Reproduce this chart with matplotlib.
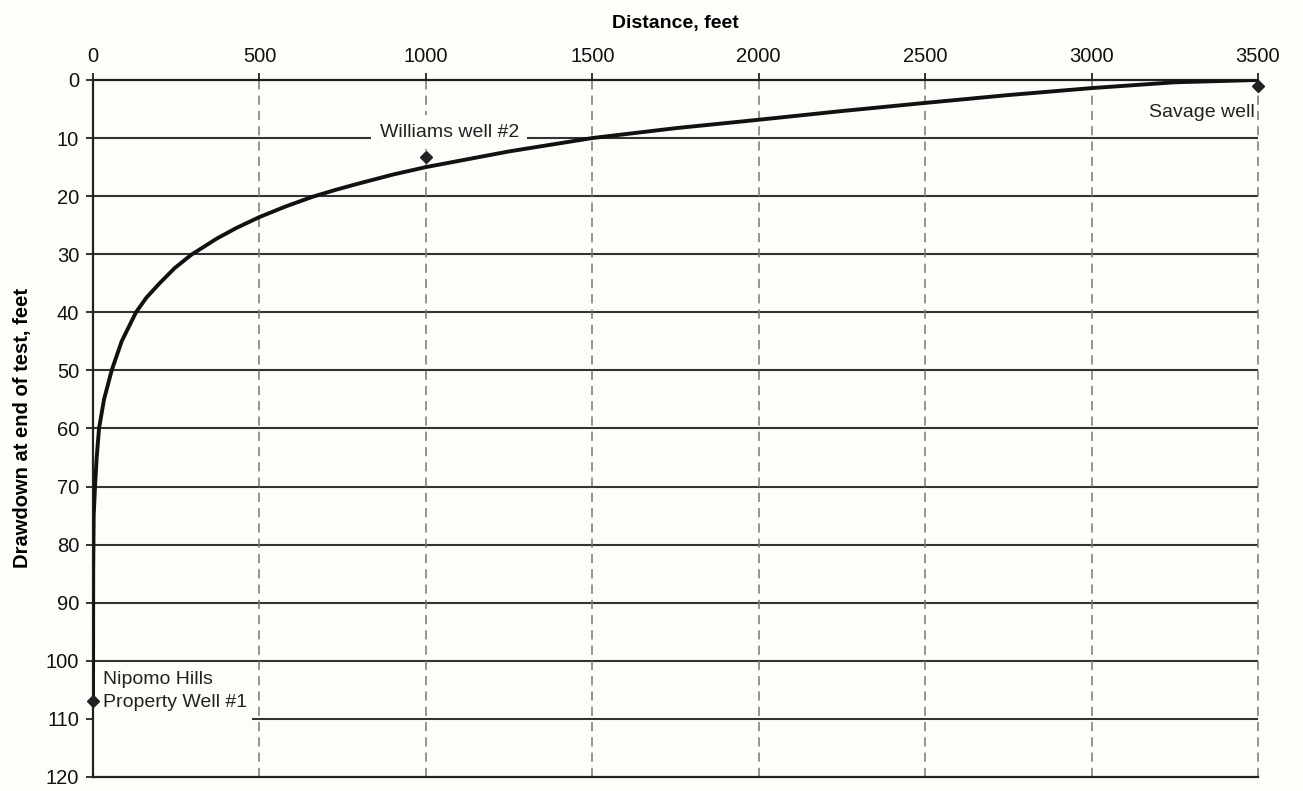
import matplotlib
matplotlib.use("Agg")
import matplotlib.pyplot as plt

# drawdown curve (distance in feet, drawdown in feet)
distance = [0, 0.5, 2, 6, 11, 18, 33, 56, 86, 129, 160, 200, 245, 295, 372,
            430, 500, 580, 660, 730, 800, 900, 1000, 1250, 1500, 1750, 2000,
            2250, 2500, 2750, 3000, 3250, 3500]
drawdown = [107, 85, 75, 70, 65, 60, 55, 50, 45, 40, 37.5, 35, 32.4, 30.1, 27.3,
            25.5, 23.6, 21.75, 20.1, 18.9, 17.8, 16.3, 15, 12.3, 10, 8.3, 6.85,
            5.35, 3.95, 2.6, 1.4, 0.4, 0]

# observed wells
well_names = ["Nipomo Hills\nProperty Well #1", "Williams well #2", "Savage well"]
well_dist = [0, 1000, 3500]
well_draw = [107, 13.2, 1.0]

x_ticks = [0, 500, 1000, 1500, 2000, 2500, 3000, 3500]
y_ticks = list(range(0, 121, 10))

plt.rcParams['font.family'] = ['Liberation Sans', 'DejaVu Sans']
bg = "#fdfdfa"

fig = plt.figure(figsize=(13.03, 7.91), dpi=100, facecolor=bg)
ax = fig.add_axes([0.0714, 0.0177, 0.894, 0.8812])
ax.set_facecolor(bg)

ax.set_xlim(0, 3500)
ax.set_ylim(120, 0)
ax.xaxis.tick_top()
ax.xaxis.set_label_position("top")
ax.set_xticks(x_ticks)
ax.set_yticks(y_ticks)
ax.tick_params(axis="both", labelsize=14.5, colors="#111", direction="out",
               length=5, width=1.2, pad=5)

# grid: solid horizontals, dashed verticals
# (the 110 line is hidden behind the Nipomo label in the original)
for y in y_ticks[1:-1]:
    start = 0.137 if y == 110 else 0
    ax.axhline(y, xmin=start, color="#333", lw=1.5, zorder=1)
for x in x_ticks[1:]:
    ax.axvline(x, color="#777", lw=1.1, ls=(0, (6, 4)), zorder=1, clip_on=False)

for s in ["top", "left", "bottom"]:
    ax.spines[s].set_color("#222")
    ax.spines[s].set_linewidth(1.6)
ax.spines["right"].set_visible(False)

ax.plot(distance, drawdown, color="#111", lw=2.8, zorder=6,
        solid_capstyle="round", solid_joinstyle="round")
ax.plot(well_dist, well_draw, "D", color="#222", ms=6, zorder=7, clip_on=False)

box = dict(facecolor=bg, edgecolor="none", pad=2)
ax.text(well_dist[0] + 30, 101.8, well_names[0], fontsize=14, color="#222",
        ha="left", va="top", linespacing=1.45, bbox=box, zorder=5)
ax.text(well_dist[1] + 70, 9, well_names[1], fontsize=14, color="#222",
        ha="center", va="center", bbox=dict(facecolor=bg, edgecolor="none", pad=6), zorder=5)
ax.text(well_dist[2] - 10, 5.6, well_names[2], fontsize=14, color="#222",
        ha="right", va="center", zorder=5)

ax.set_xlabel("Distance, feet", fontsize=14, fontweight="bold", labelpad=14)
ax.set_ylabel("Drawdown at end of test, feet", fontsize=14.5, fontweight="bold", labelpad=10)

fig.savefig("out.png", dpi=100, facecolor=bg)
